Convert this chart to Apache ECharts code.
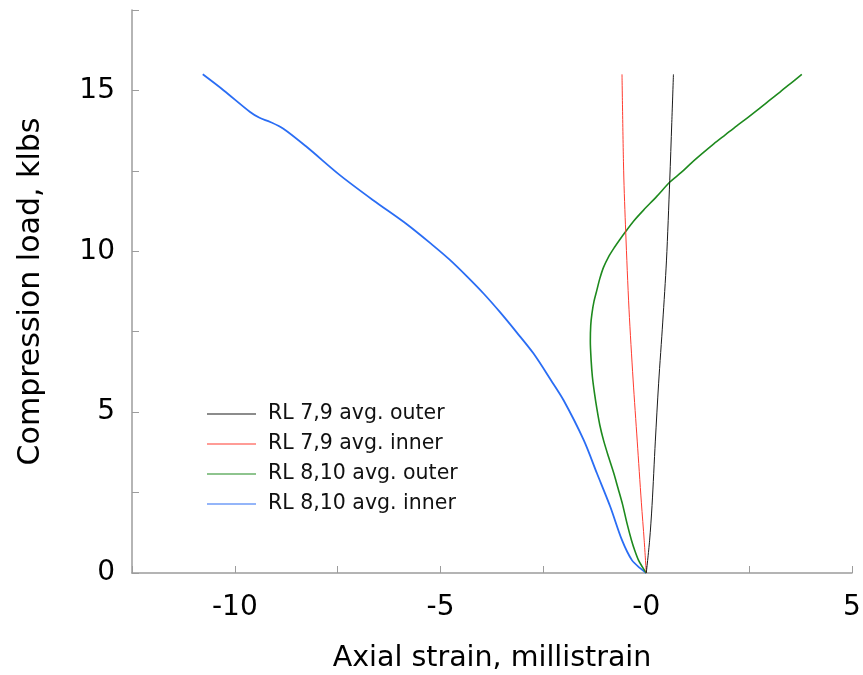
<!DOCTYPE html>
<html>
<head>
<meta charset="utf-8">
<script src="https://cdn.jsdelivr.net/npm/echarts@6/dist/echarts.min.js"></script>
<style>
html,body{margin:0;padding:0;background:#fff;}
#chart{width:863px;height:675px;}
</style>
</head>
<body>
<div id="chart"></div>
<script>
// [axial strain (millistrain), compression load (klbs)]
const seriesNames = ['RL 7,9 avg. outer', 'RL 7,9 avg. inner', 'RL 8,10 avg. outer', 'RL 8,10 avg. inner'];
const rl79Outer = [[0,0],[0.08,1.0],[0.14,2.1],[0.22,4.1],[0.3,5.9],[0.4,7.8],[0.49,9.7],[0.57,12.2],[0.62,14.0],[0.66,15.5]];
const rl79Inner = [[0,0],[-0.05,1.0],[-0.12,2.2],[-0.22,4.1],[-0.32,6.0],[-0.42,8.2],[-0.5,10.6],[-0.55,12.5],[-0.59,15.5]];
const rl810Outer = [[0,0],[-0.1,0.2],[-0.19,0.4],[-0.28,0.7],[-0.36,1.02],[-0.47,1.55],[-0.58,2.15],[-0.69,2.65],[-0.79,3.1],[-0.92,3.62],[-1.04,4.13],[-1.13,4.6],[-1.2,5.1],[-1.26,5.6],[-1.31,6.1],[-1.34,6.6],[-1.36,7.2],[-1.35,7.7],[-1.32,8.07],[-1.27,8.45],[-1.2,8.8],[-1.13,9.15],[-1.04,9.5],[-0.92,9.82],[-0.79,10.09],[-0.65,10.35],[-0.51,10.6],[-0.3,10.95],[-0.066,11.28],[0.25,11.7],[0.58,12.16],[0.85,12.45],[1.1,12.75],[1.37,13.05],[1.64,13.34],[1.92,13.62],[2.2,13.9],[2.45,14.14],[2.69,14.38],[2.97,14.67],[3.25,14.95],[3.52,15.23],[3.78,15.5]];
const rl810Inner = [[0,0],[-0.15,0.15],[-0.35,0.4],[-0.59,1.02],[-0.875,2.06],[-1.2,3.1],[-1.52,4.13],[-2.01,5.37],[-2.32,6.0],[-2.74,6.82],[-3.15,7.48],[-3.55,8.1],[-3.95,8.68],[-4.36,9.22],[-4.78,9.74],[-5.2,10.2],[-5.82,10.84],[-6.63,11.58],[-7.44,12.36],[-8.25,13.24],[-8.82,13.81],[-9.14,14.02],[-9.4,14.15],[-9.63,14.33],[-10.27,15.0],[-10.78,15.5]];
const xTickLabels = {'-10':'-10','-5':'-5','0':'-0','5':'5'};
const yTickLabels = {'0':'0','5':'5','10':'10','15':'15'};

const colors = ['#1a1a1a', '#ff3b2f', '#1e8a1e', '#2a6df4'];
const widths = [1, 1, 1.6, 1.8];
const dataSets = [rl79Outer, rl79Inner, rl810Outer, rl810Inner];
const font = '"DejaVu Sans", Verdana, sans-serif';
const axisGray = '#9c9c9c';

const chart = echarts.init(document.getElementById('chart'));
chart.setOption({
  animation: false,
  backgroundColor: '#fff',
  grid: {left: 132, right: 11, top: 10, bottom: 102, containLabel: false, outerBoundsMode: 'none'},
  legend: {
    data: seriesNames,
    orient: 'vertical',
    left: 202, top: 398,
    icon: 'rect',
    itemWidth: 49, itemHeight: 1,
    itemGap: 8,
    textStyle: {fontFamily: font, fontSize: 20.5, color: '#111', padding: [0,0,0,7], lineHeight: 22}
  },
  xAxis: {
    type: 'value', min: -12.5, max: 5, interval: 2.5,
    name: 'Axial strain, millistrain', nameLocation: 'middle', nameGap: 71,
    nameTextStyle: {fontFamily: font, fontSize: 28.5, color: '#000'},
    axisLine: {show: true, onZero: false, lineStyle: {color: axisGray, width: 1.5}},
    axisTick: {show: true, inside: true, length: 7, lineStyle: {color: axisGray}},
    axisLabel: {fontFamily: font, fontSize: 28, color: '#000', margin: 21,
      formatter: v => (xTickLabels[String(v)] !== undefined ? xTickLabels[String(v)] : '')},
    splitLine: {show: false}
  },
  yAxis: {
    type: 'value', min: 0, max: 17.5, interval: 2.5,
    name: 'Compression load, klbs', nameLocation: 'middle', nameGap: 86,
    nameTextStyle: {fontFamily: font, fontSize: 30, color: '#000'},
    axisLine: {show: true, onZero: false, lineStyle: {color: axisGray, width: 1.5}},
    axisTick: {show: true, inside: true, length: 7, lineStyle: {color: axisGray}},
    axisLabel: {fontFamily: font, fontSize: 28, color: '#000', margin: 17, padding: [12,0,0,0],
      formatter: v => (yTickLabels[String(v)] !== undefined ? yTickLabels[String(v)] : '')},
    splitLine: {show: false}
  },
  series: seriesNames.map((n, i) => ({
    name: n, type: 'line', data: dataSets[i], showSymbol: false, symbol: 'none',
    smooth: 0.3, color: colors[i],
    lineStyle: {color: colors[i], width: widths[i]},
    z: 2 + (3 - i)
  }))
});
</script>
</body>
</html>
